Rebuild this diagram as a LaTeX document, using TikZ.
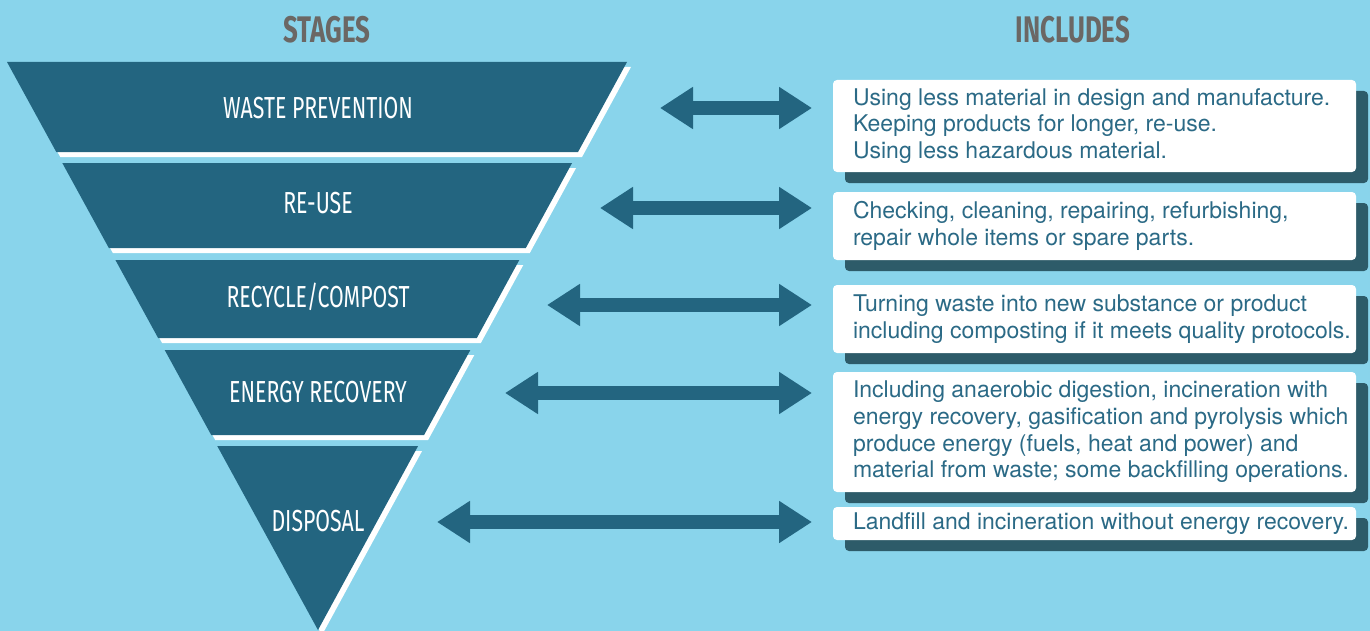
\documentclass[tikz,border=0pt]{standalone}
\usepackage{fontspec}
\setmainfont{TeX Gyre Heros}
\newfontfamily\condfont[FakeStretch=0.7]{Fira Sans}
\usetikzlibrary{arrows.meta,shadows}

\definecolor{skyblue}{HTML}{89D4EB}
\definecolor{funnelblue}{HTML}{236580}
\definecolor{shadowblue}{HTML}{2D5B69}
\definecolor{textblue}{HTML}{2B6A86}
\definecolor{headgray}{HTML}{6B6764}

\tikzset{
  stage/.style={text=white, font=\condfont\fontsize{15.2}{17}\selectfont},
  heading/.style={text=headgray, font=\condfont\bfseries\fontsize{18.5}{20}\selectfont},
  infobox/.style={fill=white, rounded corners=2pt, minimum width=261.5pt, inner sep=0pt,
    drop shadow={shadow xshift=6pt, shadow yshift=-5.5pt, opacity=1, fill=shadowblue}},
  infotext/.style={anchor=west, align=left, text=textblue, inner sep=0pt,
    font=\fontsize{11.5}{13.3}\selectfont},
  link/.style={{Triangle[length=16.5pt,width=20pt]}-{Triangle[length=16.5pt,width=20pt]},
    line width=7pt, funnelblue}
}

\begin{document}
\begin{tikzpicture}[x=0.5pt,y=-0.5pt]
\path[use as bounding box, fill=skyblue] (0,0) rectangle (1370,631);

\node [heading] (stages) at (327,30) {STAGES};
\node [heading] (includes) at (1073,30) {INCLUDES};

% funnel bands, cut from the triangle (7,62) (627,62) (318,630)
\foreach \i/\top/\bot/\ly/\name in {1/62/152/108/{WASTE PREVENTION}, 2/163/248/203/{RE-USE},
    3/260/338/297/{RECYCLE/COMPOST}, 4/350/435/392/{ENERGY RECOVERY}, 5/446/630/521/{DISPOSAL}}{
  \pgfmathsetmacro\tl{7+(\top-62)*0.5475}
  \pgfmathsetmacro\tr{627-(\top-62)*0.5440}
  \pgfmathsetmacro\bl{7+(\bot-62)*0.5475}
  \pgfmathsetmacro\br{627-(\bot-62)*0.5440}
  \fill [white, shift={(4,5)}] (\tl,\top) -- (\tr,\top) -- (\br,\bot) -- (\bl,\bot) -- cycle;
  \fill [funnelblue] (\tl,\top) -- (\tr,\top) -- (\br,\bot) -- (\bl,\bot) -- cycle;
  \node [stage] (s\i) at (318,\ly) {\name};
}

% arrows
\foreach \i/\xl/\y in {1/660/108, 2/600/208, 3/547/305, 4/505/393, 5/437/522}{
  \coordinate (l\i) at (\xl,\y);
  \coordinate (r\i) at (812,\y);
  \draw [link] (l\i) -- (r\i);
}

% boxes
\node [infobox, minimum height=46pt] (box1) at (1094.5,126) {};
\node [infotext] (txt1) at ([xshift=10pt]box1.west) {Using less material in design and manufacture.\\Keeping products for longer, re-use.\\Using less hazardous material.};

\node [infobox, minimum height=34pt] (box2) at (1094.5,226) {};
\node [infotext] (txt2) at ([xshift=10pt]box2.west) {Checking, cleaning, repairing, refurbishing,\\repair whole items or spare parts.};

\node [infobox, minimum height=34pt] (box3) at (1094.5,319) {};
\node [infotext] (txt3) at ([xshift=10pt]box3.west) {Turning waste into new substance or product\\including composting if it meets quality protocols.};

\node [infobox, minimum height=60pt] (box4) at (1094.5,432) {};
\node [infotext] (txt4) at ([xshift=10pt]box4.west) {Including anaerobic digestion, incineration with\\energy recovery, gasification and pyrolysis which\\produce energy (fuels, heat and power) and\\material from waste; some backfilling operations.};

\node [infobox, minimum height=16.5pt] (box5) at (1094.5,523.5) {};
\node [infotext] (txt5) at ([xshift=10pt]box5.west) {Landfill and incineration without energy recovery.};

\end{tikzpicture}
\end{document}
